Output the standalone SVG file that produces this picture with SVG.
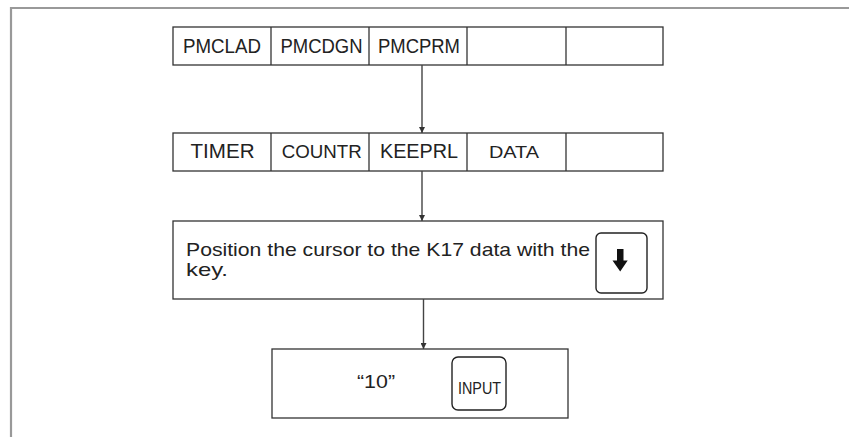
<svg xmlns="http://www.w3.org/2000/svg" width="849" height="437" viewBox="0 0 849 437">
<style>
.box{fill:#fff;stroke:#333;stroke-width:1.3}
.div{stroke:#333;stroke-width:1.3}
.key{fill:#fff;stroke:#222;stroke-width:1.4}
.t{font-family:"Liberation Sans",Arial,sans-serif;fill:#222}
.c{text-anchor:middle}
.conn{stroke:#444;stroke-width:1.4;fill:none}
</style>
<defs>
<marker id="ah" viewBox="0 0 10 10" refX="10" refY="5" markerWidth="6" markerHeight="6" markerUnits="userSpaceOnUse" orient="auto">
<path d="M0,0 L10,5 L0,10 z" fill="#333"/>
</marker>
</defs>
<rect width="849" height="437" fill="#fff"/>
<path d="M11,437 V8 H849" fill="none" stroke="#999" stroke-width="2.2"/>

<g id="menu1">
<rect class="box" x="173" y="27" width="490" height="38"/>
<line class="div" x1="271" y1="27" x2="271" y2="65"/>
<line class="div" x1="369" y1="27" x2="369" y2="65"/>
<line class="div" x1="467" y1="27" x2="467" y2="65"/>
<line class="div" x1="566" y1="27" x2="566" y2="65"/>
<text class="t c" x="222" y="52.5" font-size="21" textLength="78" lengthAdjust="spacingAndGlyphs">PMCLAD</text>
<text class="t c" x="321.5" y="52.5" font-size="21" textLength="82" lengthAdjust="spacingAndGlyphs">PMCDGN</text>
<text class="t c" x="419" y="52.5" font-size="21" textLength="82" lengthAdjust="spacingAndGlyphs">PMCPRM</text>
</g>

<g id="menu2">
<rect class="box" x="173" y="133" width="490" height="38"/>
<line class="div" x1="271" y1="133" x2="271" y2="171"/>
<line class="div" x1="369" y1="133" x2="369" y2="171"/>
<line class="div" x1="467" y1="133" x2="467" y2="171"/>
<line class="div" x1="566" y1="133" x2="566" y2="171"/>
<text class="t c" x="222.5" y="157.5" font-size="21" textLength="64" lengthAdjust="spacingAndGlyphs">TIMER</text>
<text class="t c" x="321.7" y="157.5" font-size="18.5" textLength="80" lengthAdjust="spacingAndGlyphs">COUNTR</text>
<text class="t c" x="419" y="157.5" font-size="21" textLength="78" lengthAdjust="spacingAndGlyphs">KEEPRL</text>
<text class="t c" x="514" y="157.5" font-size="16" textLength="50" lengthAdjust="spacingAndGlyphs">DATA</text>
</g>

<g id="step3">
<rect class="box" x="173" y="221" width="490" height="78"/>
<text class="t" x="186" y="256" font-size="19" textLength="404" lengthAdjust="spacingAndGlyphs">Position the cursor to the K17 data with the</text>
<text class="t" x="186" y="276" font-size="19" textLength="42" lengthAdjust="spacingAndGlyphs">key.</text>
<rect class="key" x="596" y="233" width="51" height="60" rx="5"/>
<path d="M617,249 H623.5 V260.5 H627.7 L620.2,271.5 L612.5,260.5 H617 Z" fill="#111"/>
</g>

<g id="step4">
<rect class="box" x="272" y="349" width="296" height="69"/>
<text class="t" x="357" y="388.3" font-size="19" textLength="38" lengthAdjust="spacingAndGlyphs">“10”</text>
<rect class="key" x="452" y="357" width="54" height="53" rx="6"/>
<text class="t" x="458" y="394" font-size="16.5" textLength="43" lengthAdjust="spacingAndGlyphs">INPUT</text>
</g>

<g id="connectors">
<line class="conn" x1="422" y1="65" x2="422" y2="133" marker-end="url(#ah)"/>
<line class="conn" x1="422" y1="171" x2="422" y2="221" marker-end="url(#ah)"/>
<line class="conn" x1="423.5" y1="299" x2="423.5" y2="349" marker-end="url(#ah)"/>
</g>
</svg>
